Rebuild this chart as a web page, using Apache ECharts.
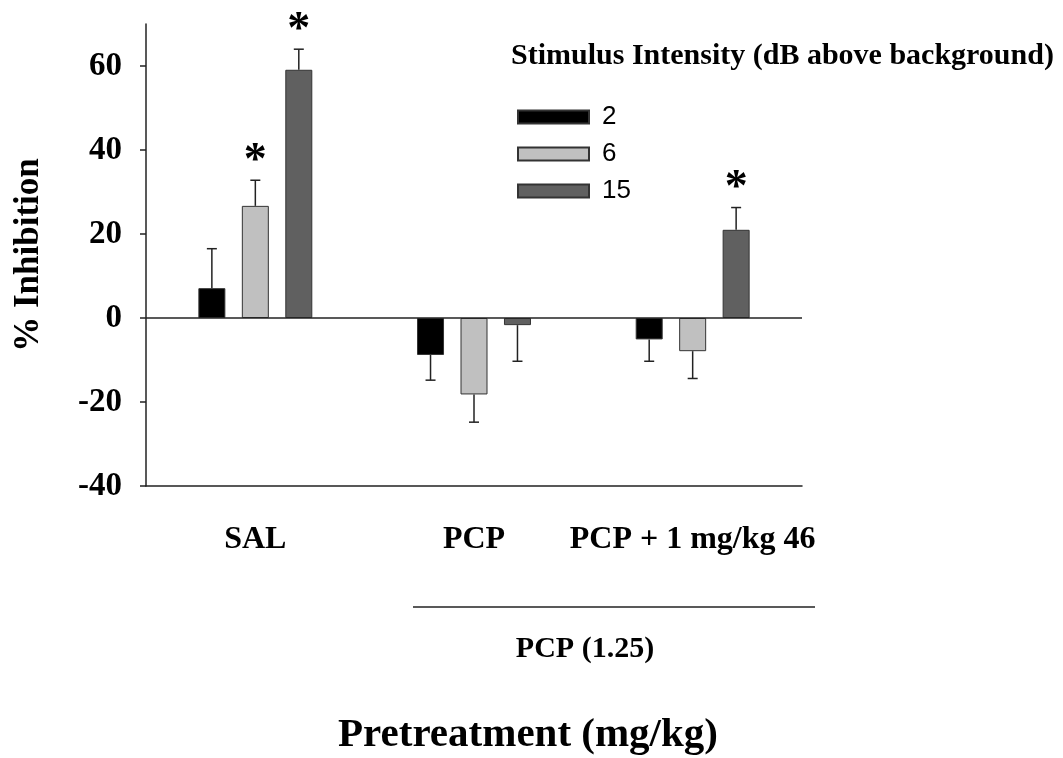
<!DOCTYPE html>
<html>
<head>
<meta charset="utf-8">
<script src="https://cdn.jsdelivr.net/npm/echarts@6/dist/echarts.min.js"></script>
<style>
html,body{margin:0;padding:0;background:#fff;}
#chart{width:1063px;height:758px;}
</style>
</head>
<body>
<div id="chart"></div>
<script>
// ---- data ----
const categories = ['SAL', 'PCP', 'PCP + 1 mg/kg 46'];
const seriesNames = ['2', '6', '15'];
const mean2 = [7.1, -8.8, -5.1];
const mean6 = [26.7, -18.2, -7.9];
const mean15 = [59.1, -1.7, 21.0];
const err2 = [9.4, 6.0, 5.2];
const err6 = [6.1, 6.6, 6.5];
const err15 = [4.9, 8.6, 5.3];
const sig2 = [0, 0, 0];
const sig6 = [1, 0, 0];
const sig15 = [1, 0, 1];
const yTicks = [-40, -20, 0, 20, 40, 60];
const legendTitle = 'Stimulus Intensity (dB above background)';
const xTitle = 'Pretreatment (mg/kg)';
const yTitle = '% Inhibition';
const groupLabel = 'PCP (1.25)';

// ---- styles ----
const SERIF = "'Liberation Serif','Times New Roman',serif";
const SANS = "'Liberation Sans',Arial,sans-serif";
const colors = ['#000000', '#c0c0c0', '#606060'];
const BAR_W = 27;
const BAR_GAP = 0.61;
const INK = '#222';

const means = [mean2, mean6, mean15];
const errs = [err2, err6, err15];
const sigs = [sig2, sig6, sig15];

const chart = echarts.init(document.getElementById('chart'), null, {renderer: 'canvas'});

const series = [];
seriesNames.forEach((name, i) => {
  const s = {
    name: name,
    type: 'bar',
    data: means[i],
    barWidth: BAR_W,
    barGap: (BAR_GAP * 100) + '%',
    itemStyle: {color: colors[i], borderColor: '#333', borderWidth: 1},
    emphasis: {disabled: true},
    z: 2
  };
  if (i === 0) {
    s.markLine = {
      silent: true,
      symbol: ['none', 'none'],
      label: {show: false},
      lineStyle: {color: INK, width: 1.5, type: 'solid'},
      data: [{yAxis: 0}]
    };
  }
  series.push(s);
});

seriesNames.forEach((name, i) => {
  const offset = (i - 1) * BAR_W * (1 + BAR_GAP);
  series.push({
    type: 'custom',
    name: 'err' + name,
    z: 5,
    silent: true,
    data: categories.map((c, k) => [k, means[i][k], errs[i][k], sigs[i][k]]),
    renderItem: function (params, api) {
      const k = api.value(0), v = api.value(1), e = api.value(2), sg = api.value(3);
      const dir = v >= 0 ? 1 : -1;
      const p0 = api.coord([k, v]);
      const p1 = api.coord([k, v + dir * e]);
      const x = p0[0] + offset;
      const children = [
        {type: 'line', shape: {x1: x, y1: p0[1], x2: x, y2: p1[1]}, style: {stroke: INK, lineWidth: 1.5}},
        {type: 'line', shape: {x1: x - 5, y1: p1[1], x2: x + 5, y2: p1[1]}, style: {stroke: INK, lineWidth: 1.5}}
      ];
      if (sg) {
        children.push({
          type: 'text',
          style: {text: '*', x: x, y: p1[1] + 5, align: 'center', verticalAlign: 'bottom',
                  font: "bold 46px " + SERIF, fill: '#000'}
        });
      }
      return {type: 'group', children: children};
    }
  });
});

chart.setOption({
  animation: false,
  backgroundColor: '#fff',
  grid: {left: 146, right: 261, top: 24, bottom: 272, containLabel: false},
  title: {
    text: legendTitle,
    left: 506, top: 36,
    textStyle: {fontFamily: SERIF, fontWeight: 'bold', fontSize: 30, color: '#000'}
  },
  legend: {
    data: seriesNames,
    orient: 'vertical',
    left: 517, top: 104,
    padding: 0,
    itemWidth: 71, itemHeight: 13,
    itemGap: 11,
    icon: 'rect',
    selectedMode: false,
    textStyle: {fontFamily: SANS, fontSize: 26, color: '#000', padding: [0, 0, 0, 8]}
  },
  xAxis: {
    type: 'category',
    data: categories,
    position: 'bottom',
    axisLine: {onZero: false, lineStyle: {color: INK, width: 1.5}},
    axisTick: {alignWithLabel: true, length: 7, lineStyle: {color: INK, width: 1.5}},
    axisLabel: {fontFamily: SERIF, fontWeight: 'bold', fontSize: 32, color: '#000', margin: 38, interval: 0},
    splitLine: {show: false}
  },
  yAxis: {
    type: 'value',
    min: -40, max: 70, interval: 20,
    name: yTitle,
    nameLocation: 'middle',
    nameRotate: 90,
    nameGap: 100,
    nameTextStyle: {fontFamily: SERIF, fontWeight: 'bold', fontSize: 35, color: '#000'},
    axisLine: {show: true, lineStyle: {color: INK, width: 1.5}},
    axisTick: {show: true, length: 6, customValues: yTicks, lineStyle: {color: INK, width: 1.5}},
    axisLabel: {customValues: yTicks, fontFamily: SERIF, fontWeight: 'bold', fontSize: 33, color: '#000', margin: 24},
    splitLine: {show: false}
  },
  graphic: [
    {type: 'line', shape: {x1: 413, y1: 607, x2: 815, y2: 607}, style: {stroke: INK, lineWidth: 1.5}},
    {type: 'text', x: 585, y: 649, style: {text: groupLabel, align: 'center', verticalAlign: 'middle',
      font: "bold 30px " + SERIF, fill: '#000'}},
    {type: 'text', x: 528, y: 735, style: {text: xTitle, align: 'center', verticalAlign: 'middle',
      font: "bold 41px " + SERIF, fill: '#000'}}
  ],
  series: series
});
</script>
</body>
</html>
